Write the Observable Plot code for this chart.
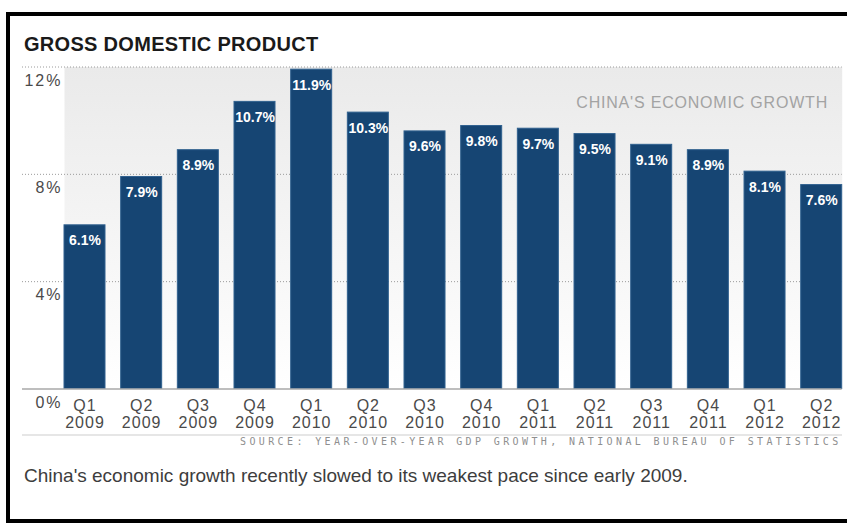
<!DOCTYPE html>
<html>
<head>
<meta charset="utf-8">
<script src="https://cdn.jsdelivr.net/npm/d3@7"></script>
<script src="https://cdn.jsdelivr.net/npm/@observablehq/plot@0.6"></script>
<style>
  html, body { margin: 0; padding: 0; background: #fff; overflow: hidden; }
  #wrap { position: relative; width: 847px; height: 523px; overflow: hidden; font-family: "Liberation Sans", Arial, sans-serif; }
  #frameBox { position: absolute; left: 6px; top: 12px; width: 900px; height: 503px; border: 4px solid #000; }
  #title { position: absolute; left: 24px; top: 33.8px; font-size: 20px; line-height: 20px; font-weight: bold; color: #1a1a1a; letter-spacing: 0.3px; white-space: nowrap; }
  #chart { position: absolute; left: 0; top: 0; }
  #sep { position: absolute; left: 22px; top: 434px; width: 820px; height: 2px; background: #e6e6e6; }
  #source { position: absolute; left: 240px; top: 437px; font-family: "DejaVu Sans Mono", monospace; font-size: 10px; line-height: 10px; letter-spacing: 3.38px; color: #8f8f8f; white-space: nowrap; }
  #caption { position: absolute; left: 24px; top: 465.9px; font-size: 19px; line-height: 19px; color: #3d3d3d; white-space: nowrap; }
  svg g[aria-label="x-axis tick label"] text { letter-spacing: 1px; }
  svg g[aria-description="ylab"] text { letter-spacing: 2px; }
  svg g[aria-description="note"] text { letter-spacing: 0.8px; }
</style>
</head>
<body>
<div id="wrap">
  <div id="frameBox"></div>
  <div id="chart"></div>
  <div id="title">GROSS DOMESTIC PRODUCT</div>
  <div id="sep"></div>
  <div id="source">SOURCE: YEAR-OVER-YEAR GDP GROWTH, NATIONAL BUREAU OF STATISTICS</div>
  <div id="caption">China's economic growth recently slowed to its weakest pace since early 2009.</div>
</div>
<script>
const quarters = ["Q1","Q2","Q3","Q4","Q1","Q2","Q3","Q4","Q1","Q2","Q3","Q4","Q1","Q2"];
const years = ["2009","2009","2009","2009","2010","2010","2010","2010","2011","2011","2011","2011","2012","2012"];
const growth = [6.1, 7.9, 8.9, 10.7, 11.9, 10.3, 9.6, 9.8, 9.7, 9.5, 9.1, 8.9, 8.1, 7.6];
const yTicks = [0, 4, 8, 12];
const gridTicks = [4, 8, 12];
const noteText = ["CHINA'S ECONOMIC GROWTH"];

const data = quarters.map((q, i) => ({key: q + " " + years[i], value: growth[i]}));

const chart = Plot.plot({
  width: 847,
  height: 440,
  marginTop: 66.5,
  marginBottom: 51.5,
  marginLeft: 64,
  marginRight: 5.3,
  style: {fontFamily: "Liberation Sans, Arial, sans-serif", color: "#4a4a4a", background: "transparent", overflow: "visible"},
  x: {type: "band", domain: data.map(d => d.key), paddingInner: 0.2765, paddingOuter: 0, round: false, label: null},
  y: {domain: [0, 12], axis: null},
  marks: [
    Plot.frame({fill: "url(#bgGrad)", stroke: null}),
    Plot.ruleY(gridTicks, {stroke: "#9a9a9a", strokeDasharray: "1,2", insetLeft: -42}),
    Plot.barY(data, {x: "key", y: "value", fill: "#164573", stroke: "#30618f", strokeWidth: 1}),
    Plot.ruleY([0], {stroke: "#a8a8a8", strokeWidth: 1.5, insetLeft: -42}),
    Plot.text(data, {x: "key", y: "value", text: d => d.value.toFixed(1) + "%", fill: "white", fontWeight: "bold", fontSize: 14, lineAnchor: "bottom", dy: 20}),
    Plot.text(yTicks, {y: d => d, text: d => d + "%", frameAnchor: "left", textAnchor: "end", dx: -2, dy: 18.5, lineAnchor: "bottom", fontSize: 16, fill: "#4a4a4a", ariaDescription: "ylab"}),
    Plot.text(noteText, {text: d => d, frameAnchor: "top-right", textAnchor: "end", lineAnchor: "bottom", dx: -14.2, dy: 41.2, fontSize: 16, fill: "#a3a3a3", ariaDescription: "note"}),
    Plot.axisX({tickSize: 0, tickPadding: 10, fontSize: 16, lineHeight: 1.05, fill: "#4a4a4a", tickFormat: k => k.replace(" ", "\n")})
  ]
});

const svg = d3.select(chart);
const defs = svg.insert("defs", ":first-child");
const grad = defs.append("linearGradient").attr("id", "bgGrad").attr("x1", 0).attr("y1", 0).attr("x2", 0).attr("y2", 1);
grad.append("stop").attr("offset", "0%").attr("stop-color", "#eaeaea");
grad.append("stop").attr("offset", "100%").attr("stop-color", "#ffffff");

document.getElementById("chart").appendChild(chart);
</script>
</body>
</html>
